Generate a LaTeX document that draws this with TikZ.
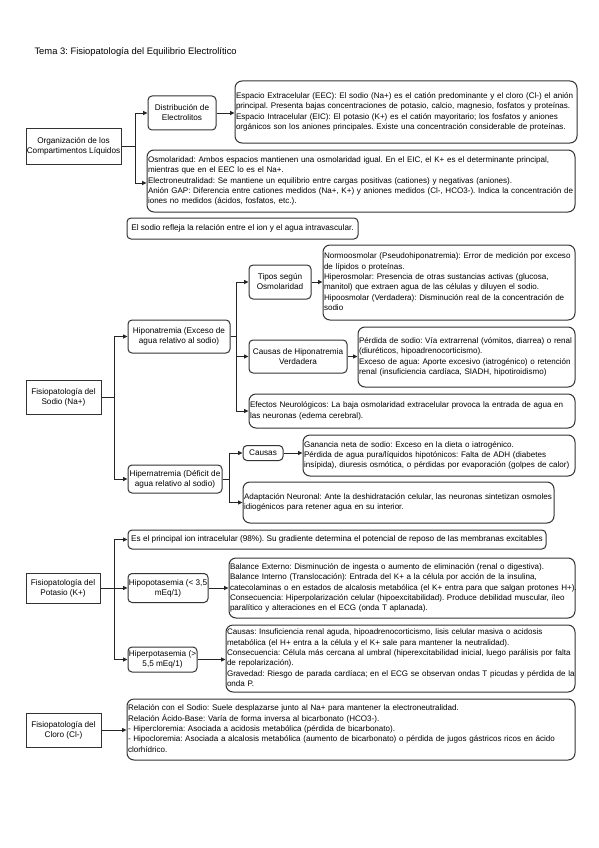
\documentclass[tikz,border=0pt]{standalone}
\usepackage{fontspec}
\setmainfont{Liberation Sans}
\usetikzlibrary{arrows.meta}
\frenchspacing
\newcommand\boxlines[1]{\begin{tabular}{@{}l@{}}#1\end{tabular}}
\begin{document}
\begin{tikzpicture}[x=1pt,y=-1pt,
  root/.style={draw=black!80, line width=1pt, fill=white, align=center, font=\fontsize{8.2}{10}\selectfont, inner sep=0.5pt},
  mid/.style={draw=black!80, line width=1pt, rounded corners=4pt, fill=white, align=center, font=\fontsize{8.2}{10}\selectfont, inner sep=0.5pt},
  info/.style={draw=black!80, line width=1pt, rounded corners=7pt, fill=white, align=left, font=\fontsize{8.05}{10.3}\selectfont, inner xsep=1pt, inner ysep=1pt},
  ln/.style={draw=black!85, line width=0.9pt},
  arr/.style={ln, -{Triangle[length=4.5pt,width=4pt]}}]
\useasboundingbox[fill=white] (0,0) rectangle (599,848);

\node[anchor=west, font=\fontsize{9.4}{11}\selectfont] (title) at (31,52) {Tema 3: Fisiopatología del Equilibrio Electrolítico};

% Compartimentos
\node[root, minimum width=95pt, minimum height=35pt] (org) at (73.5,146.5) {Organización de los\\Compartimentos Líquidos};
\node[mid, minimum width=68pt, minimum height=34pt] (dist) at (182,113) {Distribución de\\Electrolitos};
\node[info, text width=340pt, minimum height=62pt] (eec) at (406,112) {\boxlines{Espacio Extracelular (EEC): El sodio (Na+) es el catión predominante y el cloro (Cl-) el anión\\principal. Presenta bajas concentraciones de potasio, calcio, magnesio, fosfatos y proteínas.\\Espacio Intracelular (EIC): El potasio (K+) es el catión mayoritario; los fosfatos y aniones\\orgánicos son los aniones principales. Existe una concentración considerable de proteínas.}};
\node[info, text width=426pt, minimum height=62pt] (osm) at (361,181) {\boxlines{Osmolaridad: Ambos espacios mantienen una osmolaridad igual. En el EIC, el K+ es el determinante principal,\\mientras que en el EEC lo es el Na+.\\Electroneutralidad: Se mantiene un equilibrio entre cargas positivas (cationes) y negativas (aniones).\\Anión GAP: Diferencia entre cationes medidos (Na+, K+) y aniones medidos (Cl-, HCO3-). Indica la concentración de\\iones no medidos (ácidos, fosfatos, etc.).}};
\node[mid, minimum width=231pt, minimum height=21pt] (sodref) at (242.5,228.5) {El sodio refleja la relación entre el ion y el agua intravascular.};

\draw[arr] (org.east) -- ++(14,0) |- (dist.west);
\draw[arr] (org.east) -- ++(14,0) |- ([yshift=-2pt]osm.west);
\draw[arr] (dist.east) -- (dist.east -| eec.west);

% Sodio
\node[root, minimum width=75pt, minimum height=34pt] (sodio) at (63.5,397) {Fisiopatología del\\Sodio (Na+)};
\node[mid, minimum width=102pt, minimum height=33pt] (hipon) at (179,336.5) {Hiponatremia (Exceso de\\agua relativo al sodio)};
\node[mid, minimum width=62pt, minimum height=34pt] (tipos) at (280,282) {Tipos según\\Osmolaridad};
\node[info, text width=250pt, minimum height=75pt] (normo) at (449,282.5) {\boxlines{Normoosmolar (Pseudohiponatremia): Error de medición por exceso\\de lípidos o proteínas.\\Hiperosmolar: Presencia de otras sustancias activas (glucosa,\\manitol) que extraen agua de las células y diluyen el sodio.\\Hipoosmolar (Verdadera): Disminución real de la concentración de\\sodio}};
\node[mid, minimum width=98pt, minimum height=33pt] (caushipo) at (298,356.5) {Causas de Hiponatremia\\Verdadera};
\node[info, text width=215pt, minimum height=60pt] (perd) at (466.5,357) {\boxlines{Pérdida de sodio: Vía extrarrenal (vómitos, diarrea) o renal\\(diuréticos, hipoadrenocorticismo).\\Exceso de agua: Aporte excesivo (iatrogénico) o retención\\renal (insuficiencia cardíaca, SIADH, hipotiroidismo)}};
\node[info, text width=324pt, minimum height=34pt] (efec) at (412,411) {\boxlines{Efectos Neurológicos: La baja osmolaridad extracelular provoca la entrada de agua en\\las neuronas (edema cerebral).}};
\node[mid, minimum width=94pt, minimum height=28pt] (hiper) at (175,479) {Hipernatremia (Déficit de\\agua relativo al sodio)};
\node[mid, minimum width=40pt, minimum height=15pt] (causas) at (263,453) {Causas};
\node[info, text width=270pt, minimum height=41pt] (ganan) at (439,455.5) {\boxlines{Ganancia neta de sodio: Exceso en la dieta o iatrogénico.\\Pérdida de agua pura/líquidos hipotónicos: Falta de ADH (diabetes\\insípida), diuresis osmótica, o pérdidas por evaporación (golpes de calor)}};
\node[info, text width=309pt, minimum height=41pt] (adapt) at (398.5,502.5) {\boxlines{Adaptación Neuronal: Ante la deshidratación celular, las neuronas sintetizan osmoles\\idiogénicos para retener agua en su interior.}};

\draw[arr] (sodio.east) -- ++(13,0) |- (hipon.west);
\draw[arr] (sodio.east) -- ++(13,0) |- (hiper.west);
\draw[arr] (hipon.east) -- ++(6,0) |- (tipos.west);
\draw[arr] (hipon.east) -- ++(6,0) |- (caushipo.west);
\draw[arr] (hipon.east) -- ++(6,0) |- (efec.west);
\draw[arr] (tipos.east) -- (tipos.east -| normo.west);
\draw[arr] (caushipo.east) -- (caushipo.east -| perd.west);
\draw[arr] (hiper.east) -- ++(7,0) |- (causas.west);
\draw[arr] (hiper.east) -- ++(7,0) |- (adapt.west);
\draw[arr] (causas.east) -- (causas.east -| ganan.west);

% Potasio
\node[root, minimum width=74pt, minimum height=30pt] (potasio) at (63,588) {Fisiopatología del\\Potasio (K+)};
\node[mid, minimum width=418pt, minimum height=19pt] (esprin) at (337,539.5) {Es el principal ion intracelular (98\%). Su gradiente determina el potencial de reposo de las membranas excitables};
\node[mid, minimum width=80pt, minimum height=29pt] (hipok) at (168,588) {Hipopotasemia (< 3,5\\mEq/1)};
\node[info, text width=344pt, minimum height=60pt] (bal) at (402,588) {\boxlines{Balance Externo: Disminución de ingesta o aumento de eliminación (renal o digestiva).\\Balance Interno (Translocación): Entrada del K+ a la célula por acción de la insulina,\\catecolaminas o en estados de alcalosis metabólica (el K+ entra para que salgan protones H+).\\Consecuencia: Hiperpolarización celular (hipoexcitabilidad). Produce debilidad muscular, íleo\\paralítico y alteraciones en el ECG (onda T aplanada).}};
\node[mid, minimum width=69pt, minimum height=25pt] (hiperk) at (162.5,659.5) {Hiperpotasemia (>\\5,5 mEq/1)};
\node[info, text width=347pt, minimum height=67pt] (causk) at (400.5,658.5) {\boxlines{Causas: Insuficiencia renal aguda, hipoadrenocorticismo, lisis celular masiva o acidosis\\metabólica (el H+ entra a la célula y el K+ sale para mantener la neutralidad).\\Consecuencia: Célula más cercana al umbral (hiperexcitabilidad inicial, luego parálisis por falta\\de repolarización).\\Gravedad: Riesgo de parada cardíaca; en el ECG se observan ondas T picudas y pérdida de la\\onda P.}};

\draw[arr] (potasio.east) -- ++(14,0) |- (esprin.west);
\draw[arr] (potasio.east) -- (hipok.west);
\draw[arr] (potasio.east) -- ++(14,0) |- (hiperk.west);
\draw[arr] (hipok.east) -- (hipok.east -| bal.west);
\draw[arr] (hiperk.east) -- (hiperk.east -| causk.west);

% Cloro
\node[root, minimum width=75pt, minimum height=34pt] (cloro) at (63.5,730) {Fisiopatología del\\Cloro (Cl-)};
\node[info, text width=446pt, minimum height=61pt] (clbox) at (351,729.5) {\boxlines{Relación con el Sodio: Suele desplazarse junto al Na+ para mantener la electroneutralidad.\\Relación Ácido-Base: Varía de forma inversa al bicarbonato (HCO3-).\\- Hipercloremia: Asociada a acidosis metabólica (pérdida de bicarbonato).\\- Hipocloremia: Asociada a alcalosis metabólica (aumento de bicarbonato) o pérdida de jugos gástricos ricos en ácido\\clorhídrico.}};
\draw[arr] (cloro.east) -- (cloro.east -| clbox.west);
\end{tikzpicture}
\end{document}
